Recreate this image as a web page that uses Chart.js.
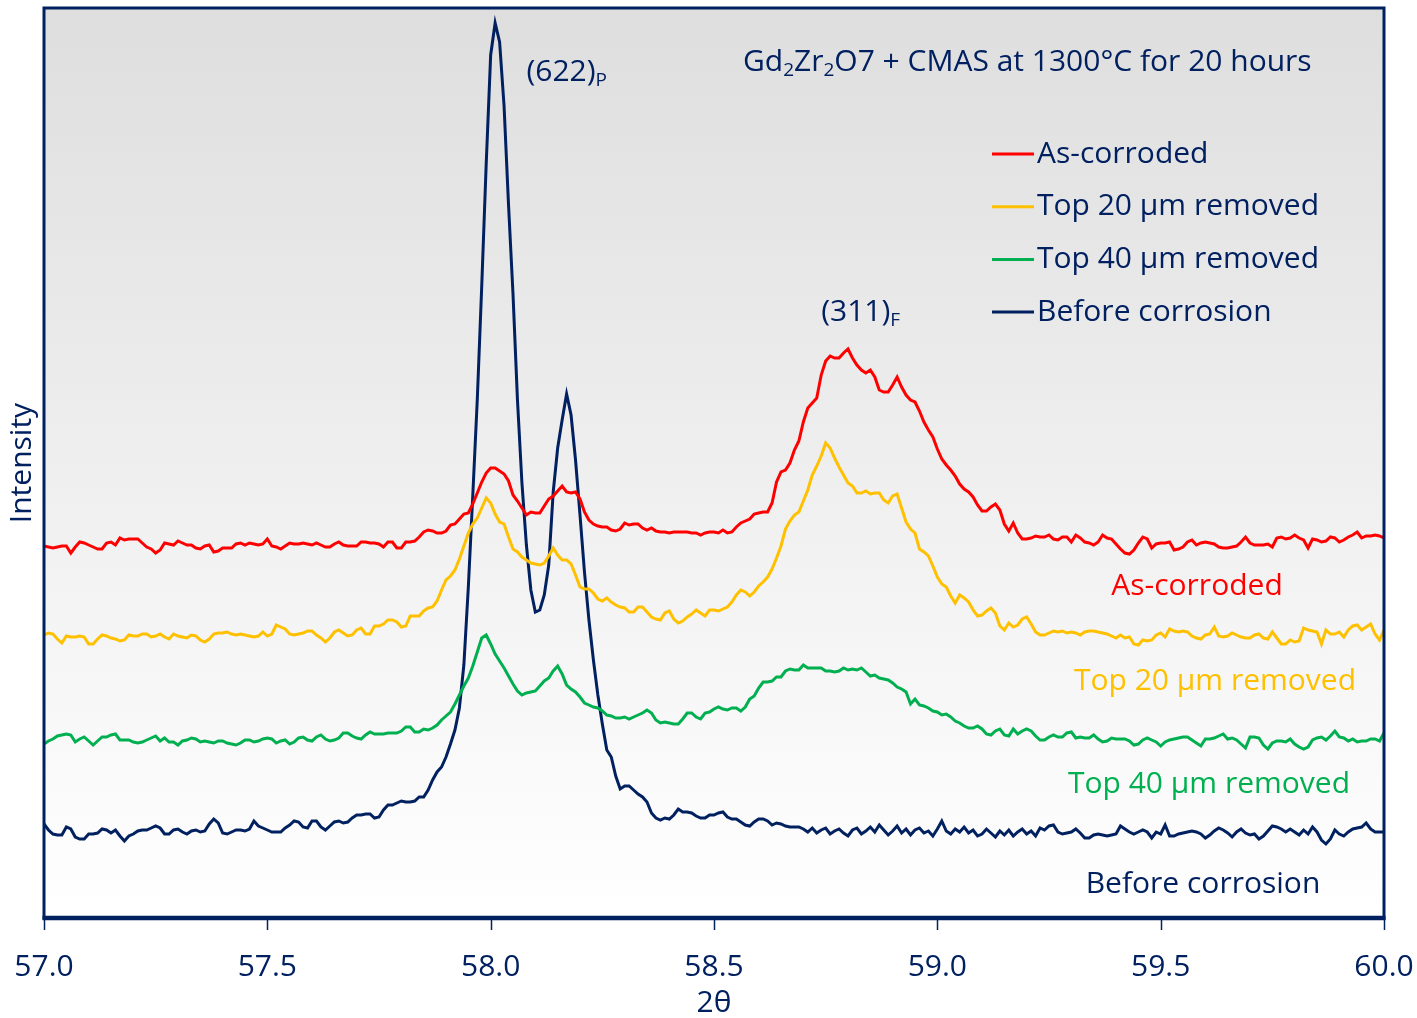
<!DOCTYPE html>
<html>
<head>
<meta charset="utf-8">
<script src="https://cdn.jsdelivr.net/npm/chart.js@4/dist/chart.umd.min.js"></script>
<style>
  html, body { margin: 0; padding: 0; background: #fff; }
  #wrap { width: 1417px; height: 1018px; }
</style>
</head>
<body>
<div id="wrap"><canvas id="chart" width="1417" height="1018"></canvas></div>
<script>
// 2-theta scan: 57.00 .. 60.00 in 0.01 deg steps
const scanStart = 57.0;
const scanStep = 0.01;

const xTicks = [57.0, 57.5, 58.0, 58.5, 59.0, 59.5, 60.0];

// intensities (arbitrary units, patterns offset vertically as in the figure)
const asCorroded = [
  454,453,452,453,454,454,447,453,458,457, 455,453,451,451,457,458,455,462,460,461,
  461,461,457,453,451,447,450,457,456,455, 459,457,455,455,452,451,454,455,448,449,
  452,452,452,456,457,455,457,456,455,456, 461,454,453,451,454,457,456,456,457,456,
  455,457,455,453,453,456,458,455,454,454, 454,458,458,457,457,456,453,458,458,452,
  452,458,458,459,463,468,470,469,467,467, 469,475,476,481,486,487,496,507,518,527,
  532,532,529,526,519,505,499,492,485,488, 487,487,494,501,504,509,514,508,507,508,
  501,488,480,476,474,473,473,470,469,471, 477,475,476,476,472,470,472,469,468,468,
  467,468,468,468,468,467,467,465,467,468, 468,467,470,467,468,473,477,479,481,486,
  487,488,488,497,518,528,530,537,550,559, 578,592,597,602,625,639,644,642,642,647,
  651,642,635,630,627,630,623,610,608,608, 615,623,613,605,600,598,589,578,570,563,
  551,541,535,530,524,516,511,508,503,495, 489,489,493,496,490,476,469,477,467,461,
  461,462,464,463,463,465,461,460,463,463, 458,465,462,458,457,455,458,465,462,461,
  456,451,447,446,450,457,463,461,452,456, 457,457,458,450,451,453,458,460,455,457,
  458,457,456,453,452,452,453,454,458,463, 457,455,455,455,456,453,462,463,461,462,
  465,462,460,452,461,460,458,459,463,462, 458,460,463,465,468,462,464,464,465,464,462
];

const top20Removed = [
  365,367,366,361,357,364,363,363,364,363, 356,356,361,365,364,362,361,359,360,365,
  364,364,366,366,363,364,366,363,361,366, 364,363,362,365,364,360,358,361,366,367,
  367,368,366,365,366,365,364,363,364,368, 364,366,375,373,371,366,365,366,367,369,
  369,365,362,358,362,368,370,367,364,365, 370,372,366,366,374,374,376,380,380,378,
  373,374,384,384,384,389,392,393,399,410, 420,424,430,441,454,467,476,482,492,502,
  497,486,478,476,463,451,448,443,440,437, 436,435,437,444,452,445,440,440,436,425,
  413,411,411,407,401,399,402,398,395,393, 392,388,388,393,393,388,383,381,380,387,
  389,381,377,379,383,386,390,387,384,390, 390,389,391,393,398,405,410,408,404,408,
  414,418,423,431,442,454,471,479,485,488, 499,510,525,534,544,557,552,542,533,525,
  517,514,507,507,509,506,507,507,500,497, 504,506,492,478,471,467,451,448,444,434,
  423,416,413,404,397,405,402,398,390,384, 385,389,392,387,374,370,377,373,375,381,
  383,376,368,365,365,367,369,368,369,367, 368,367,365,368,369,369,368,367,366,364,
  362,365,362,363,356,355,360,359,360,365, 367,363,371,369,368,369,368,364,362,361,
  365,366,373,364,363,364,367,365,363,362, 362,365,366,362,361,368,362,356,356,360,
  358,359,372,370,369,368,356,370,366,366, 368,363,370,374,375,370,373,376,366,360,370
];

const top40Removed = [
  256,259,261,264,265,266,265,258,261,263, 259,255,259,263,263,265,266,260,260,260,
  258,257,258,260,262,264,259,262,258,258, 255,259,260,262,261,258,259,258,257,259,
  259,257,256,255,257,260,260,258,259,261, 262,261,257,259,260,256,258,262,263,260,
  259,263,265,261,259,260,262,267,267,264, 262,261,265,268,266,266,266,267,267,267,
  269,273,273,268,268,271,270,272,275,280, 284,288,296,305,314,322,334,348,362,365,
  356,346,339,332,324,316,309,305,307,308, 309,314,319,322,329,334,326,315,311,308,
  303,297,295,293,292,289,285,284,282,282, 283,281,283,285,287,290,287,280,277,278,
  277,276,276,281,287,287,283,281,287,288, 291,293,291,290,292,292,289,293,301,304,
  312,318,318,319,323,323,329,331,330,330, 335,332,332,332,332,329,329,328,329,332,
  330,331,330,332,328,324,325,322,321,320, 317,313,311,308,296,301,295,294,292,289,
  288,285,286,283,279,277,274,272,272,274, 271,266,265,269,271,265,264,271,266,269,
  271,269,264,260,260,263,265,263,263,267, 268,262,263,262,262,265,261,258,259,262,
  261,261,261,259,255,256,260,262,260,258, 254,258,260,261,262,263,263,260,257,254,
  261,261,262,264,266,261,262,260,256,252, 263,263,262,255,251,257,259,259,258,261,
  256,253,251,253,260,262,263,260,264,269, 263,262,259,261,258,259,259,261,261,259,267
];

const beforeCorrosion = [
  176,170,166,165,165,173,171,163,161,161, 166,166,167,171,170,167,170,164,159,164,
  166,169,170,170,172,174,172,166,166,170, 171,168,166,169,170,168,169,176,181,177,
  167,166,168,170,170,169,171,179,174,172, 170,168,168,168,172,175,179,178,173,172,
  179,179,173,170,174,178,179,177,178,182, 185,185,186,186,182,183,190,195,195,197,
  199,198,198,199,203,203,210,220,228,233, 243,256,270,292,335,413,505,600,714,836,
  945,977,958,894,795,706,600,517,455,410, 388,390,405,435,508,552,580,606,585,540,
  485,428,380,340,305,276,250,243,224,211, 214,214,210,206,203,198,187,182,180,182,
  181,185,191,188,188,187,184,182,182,185, 185,187,188,183,181,181,178,175,174,178,
  181,181,179,175,177,176,174,173,173,173, 171,168,172,167,170,172,166,169,171,167,
  164,170,172,166,169,173,168,175,170,165, 169,174,167,171,165,170,172,167,169,164,
  171,179,169,166,171,168,173,167,170,164, 166,171,167,163,169,165,170,164,168,171,
  166,169,164,172,170,174,175,168,166,167, 168,171,167,162,162,165,166,165,164,165,
  166,174,171,168,166,168,170,168,162,168, 166,175,164,164,166,167,168,169,168,166,
  162,165,169,172,170,167,163,168,171,167, 165,166,161,164,169,174,173,171,168,171,
  168,165,170,166,173,168,160,156,161,170, 166,164,168,171,172,173,177,171,168,168,168
];

const NAVY = '#002060';
const FONT = '"Open Sans", "Noto Sans", sans-serif';
const TEXT_SIZE = 30;

function toPoints(values) {
  return values.map((v, i) => ({ x: +(scanStart + i * scanStep).toFixed(2), y: v }));
}

function drawRich(ctx, parts, x, y, size, color) {
  ctx.fillStyle = color;
  ctx.textBaseline = 'middle';
  ctx.textAlign = 'left';
  parts.forEach(([text, sub]) => {
    const s = sub ? Math.round(size * 0.62) : size;
    ctx.font = `${s}px ${FONT}`;
    ctx.fillText(text, x, sub ? y + size * 0.3 : y);
    x += ctx.measureText(text).width;
  });
}

const backgroundPlugin = {
  id: 'background',
  beforeDraw(chart) {
    const { ctx, chartArea: a } = chart;
    ctx.save();
    ctx.fillStyle = '#ffffff';
    ctx.fillRect(0, 0, chart.width, chart.height);
    const g = ctx.createLinearGradient(0, a.top, 0, a.bottom);
    g.addColorStop(0, '#dedede');
    g.addColorStop(1, '#ffffff');
    ctx.fillStyle = g;
    ctx.fillRect(a.left, a.top, a.right - a.left, a.bottom - a.top);
    ctx.restore();
  }
};

const annotationPlugin = {
  id: 'annotations',
  afterDraw(chart) {
    const { ctx, chartArea: a, scales: { x, y } } = chart;
    ctx.save();

    // tick marks under the axis
    ctx.strokeStyle = NAVY;
    ctx.lineWidth = 1.5;
    xTicks.forEach(v => {
      const px = Math.round(x.getPixelForValue(v)) + 0.5;
      ctx.beginPath();
      ctx.moveTo(px, a.bottom);
      ctx.lineTo(px, a.bottom + 12);
      ctx.stroke();
    });

    // plot frame
    ctx.lineWidth = 3;
    ctx.strokeRect(a.left, a.top, a.right - a.left, a.bottom - a.top);
    ctx.lineWidth = 4.5;
    ctx.beginPath();
    ctx.moveTo(a.left - 1.5, a.bottom);
    ctx.lineTo(a.right + 1.5, a.bottom);
    ctx.stroke();

    // title
    drawRich(ctx, [['Gd'], ['2', true], ['Zr'], ['2', true], ['O7 + CMAS at 1300°C for 20 hours']],
      743, 62, TEXT_SIZE, NAVY);

    // peak labels
    drawRich(ctx, [['(622)'], ['P', true]], x.getPixelForValue(58.08), y.getPixelForValue(928), TEXT_SIZE, NAVY);
    drawRich(ctx, [['(311)'], ['F', true]], x.getPixelForValue(58.74), y.getPixelForValue(688), TEXT_SIZE, NAVY);

    // legend
    chart.data.datasets.forEach((ds, i) => {
      const ly = 154 + i * 52.7;
      ctx.strokeStyle = ds.borderColor;
      ctx.lineWidth = 3;
      ctx.beginPath();
      ctx.moveTo(992, ly);
      ctx.lineTo(1034, ly);
      ctx.stroke();
      drawRich(ctx, [[ds.label]], 1037, ly, TEXT_SIZE, NAVY);
    });

    // labels next to the traces
    const traceLabels = [
      ['As-corroded', '#ff0000', 1197, 586],
      ['Top 20 µm removed', '#ffc000', 1215, 681],
      ['Top 40 µm removed', '#00b050', 1209, 784],
      ['Before corrosion', NAVY, 1203, 884]
    ];
    ctx.font = `${TEXT_SIZE}px ${FONT}`;
    ctx.textAlign = 'center';
    ctx.textBaseline = 'middle';
    traceLabels.forEach(([t, c, tx, ty]) => {
      ctx.fillStyle = c;
      ctx.fillText(t, tx, ty);
    });

    ctx.restore();
  }
};

const ds = (label, values, color) => ({
  label: label,
  data: toPoints(values),
  borderColor: color,
  backgroundColor: color,
  borderWidth: 3,
  pointRadius: 0,
  tension: 0,
  fill: false
});

new Chart(document.getElementById('chart').getContext('2d'), {
  type: 'line',
  data: {
    datasets: [
      ds('As-corroded', asCorroded, '#ff0000'),
      ds('Top 20 µm removed', top20Removed, '#ffc000'),
      ds('Top 40 µm removed', top40Removed, '#00b050'),
      ds('Before corrosion', beforeCorrosion, NAVY)
    ]
  },
  options: {
    responsive: false,
    animation: false,
    layout: { padding: { top: 8, right: 33, left: 0, bottom: 0 } },
    plugins: {
      legend: { display: false },
      tooltip: { enabled: false }
    },
    scales: {
      x: {
        type: 'linear',
        min: 57,
        max: 60,
        afterFit: s => { s.height = 100; s.paddingLeft = 0; s.paddingRight = 0; },
        afterBuildTicks: s => { s.ticks = xTicks.map(v => ({ value: v })); },
        ticks: {
          color: NAVY,
          font: { family: FONT, size: TEXT_SIZE },
          padding: 19,
          maxRotation: 0,
          callback: v => v.toFixed(1)
        },
        grid: { drawOnChartArea: false, drawTicks: true, tickLength: 12, color: 'rgba(0,0,0,0)' },
        border: { display: false },
        title: {
          display: true,
          text: '2θ',
          color: NAVY,
          font: { family: FONT, size: TEXT_SIZE, lineHeight: 1 },
          padding: { top: 0, bottom: 0 }
        }
      },
      y: {
        min: 82,
        max: 992,
        afterFit: s => { s.width = 44; },
        ticks: { display: false },
        grid: { display: false },
        border: { display: false },
        title: {
          display: true,
          text: 'Intensity',
          color: NAVY,
          font: { family: FONT, size: TEXT_SIZE, lineHeight: 1 },
          padding: { top: 7, bottom: 0 }
        }
      }
    }
  },
  plugins: [backgroundPlugin, annotationPlugin]
});
</script>
</body>
</html>
